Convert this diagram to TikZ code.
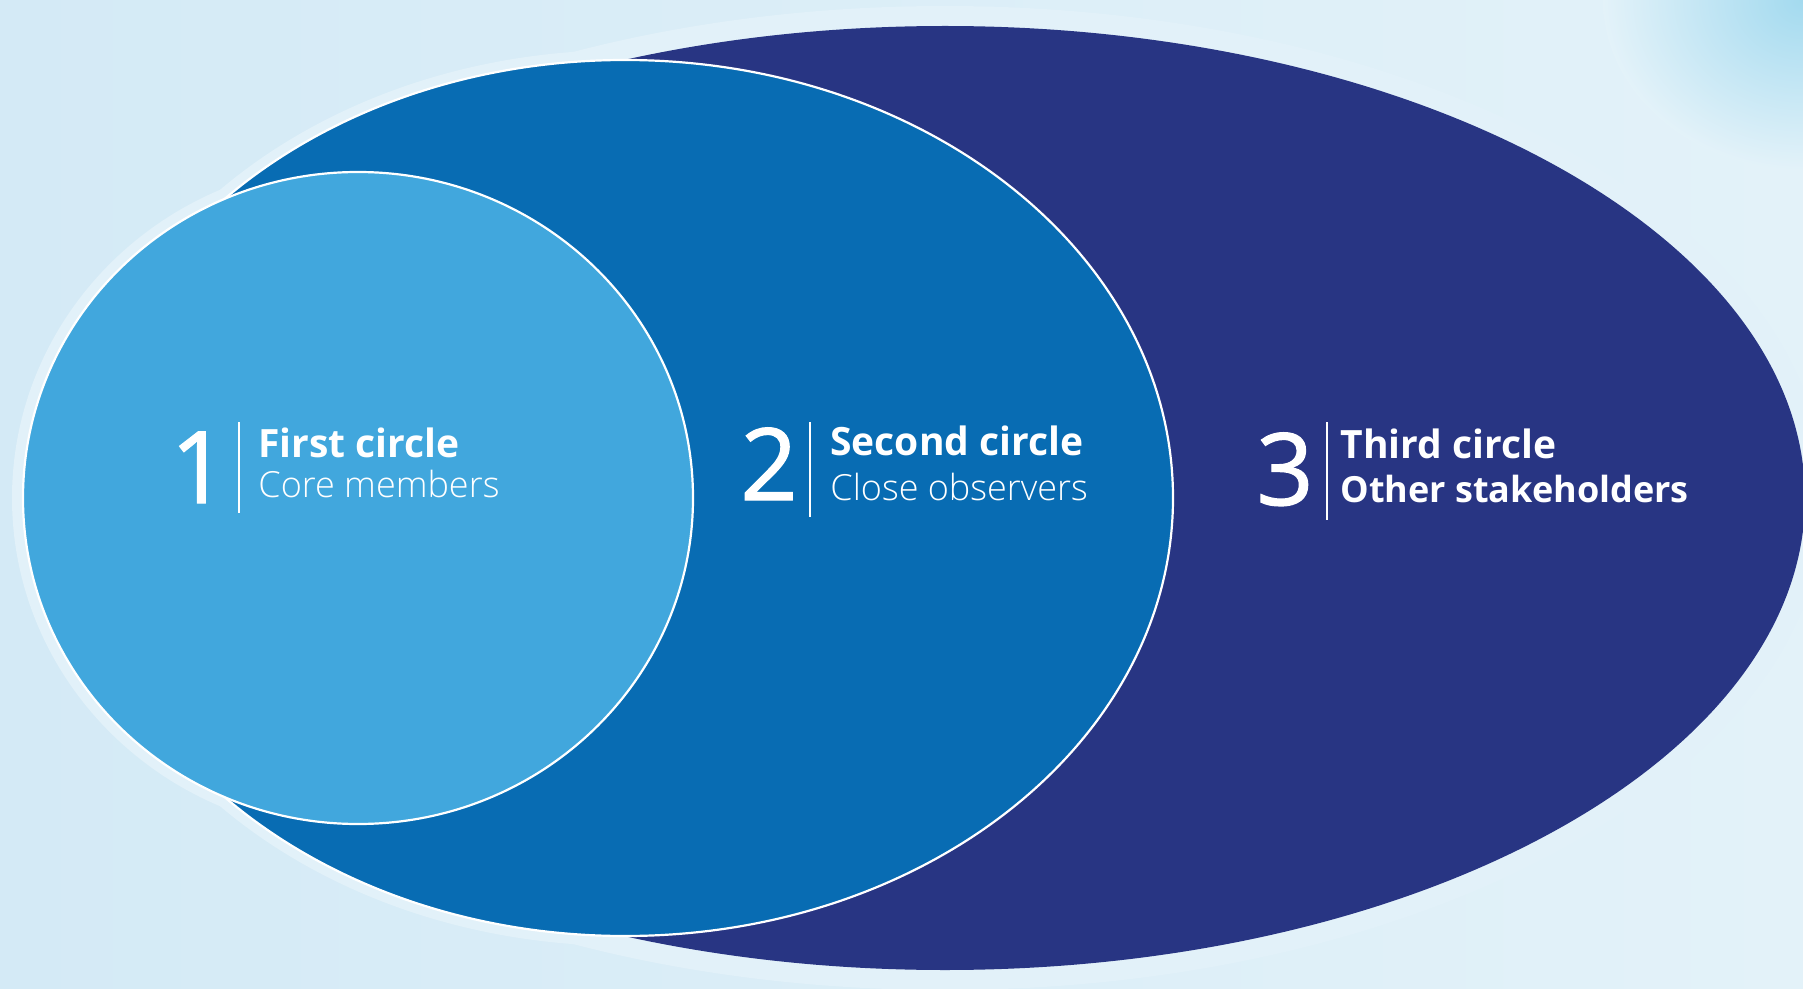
\documentclass[tikz,border=0pt]{standalone}
\usepackage{fontspec}
\setmainfont{Open Sans}
\newfontfamily\osl{Open Sans Light}
\newfontfamily\osr{Open Sans}
\newfontfamily\osn{Open Sans}[FakeBold=1.2]
\usetikzlibrary{shadings}
\definecolor{navy}{HTML}{283583}
\definecolor{midblue}{HTML}{086CB3}
\definecolor{lightblue}{HTML}{41A7DD}
\definecolor{bgleft}{HTML}{D4EAF6}
\definecolor{bgright}{HTML}{E3F2F9}
\definecolor{halo}{HTML}{E2F1F9}
\definecolor{glow}{HTML}{A3DAEF}
\tikzset{
  numtxt/.style={text=white, font=\osn\fontsize{50}{50}\selectfont, anchor=base east, inner sep=0pt},
  titletxt/.style={text=white, font=\osr\bfseries\fontsize{19.5}{19.5}\selectfont, anchor=base west, inner sep=0pt, text height=13pt, text depth=0pt},
  subtxt/.style={text=white, font=\osl\fontsize{18}{18}\selectfont, anchor=base west, inner sep=0pt, text height=11pt, text depth=4pt},
  subboldtxt/.style={text=white, font=\osr\bfseries\fontsize{18}{18}\selectfont, anchor=base west, inner sep=0pt, text height=11pt, text depth=4pt},
  sepline/.style={draw=white, line width=1.2pt},
  ring/.style={draw=white, line width=1.1pt}
}
\begin{document}
\begin{tikzpicture}[x=0.5pt,y=-0.5pt]
\useasboundingbox (0,0) rectangle (1803,989);
\clip (0,0) rectangle (1803,989);
% background
\shade[left color=bgleft, right color=bgright] (0,0) rectangle (1803,989);
\shade[inner color=glow, outer color=bgright] (1803,0) ellipse [x radius=200, y radius=170];
% halos
\fill[halo] (945,498) ellipse [x radius=880, y radius=492];
\fill[halo] (625,498) ellipse [x radius=558, y radius=448];
\fill[halo] (358,498) ellipse [x radius=346, y radius=336];
% ellipses
\fill[navy] (945,498) ellipse [x radius=860, y radius=472];
\fill[midblue, ring] (625,498) ellipse [x radius=548, y radius=438];
\fill[lightblue, ring] (358,498) ellipse [x radius=335, y radius=326];
% texts circle 1
\node[numtxt] (n1) at (228,503) {1};
\draw[sepline] (239,422) -- (239,513);
\node[titletxt] (t1) at (258,457) {First circle};
\node[subtxt] (s1) at (258,497) {Core members};
% circle 2
\node[numtxt] (n2) at (798,500) {2};
\draw[sepline] (810,422) -- (810,517);
\node[titletxt] (t2) at (830,455) {Second circle};
\node[subtxt] (s2) at (830,500) {Close observers};
% circle 3
\node[numtxt] (n3) at (1314,505) {3};
\draw[sepline] (1327,422) -- (1327,520);
\node[titletxt] (t3) at (1340,458) {Third circle};
\node[subboldtxt] (s3) at (1340,502) {Other stakeholders};
\end{tikzpicture}
\end{document}
